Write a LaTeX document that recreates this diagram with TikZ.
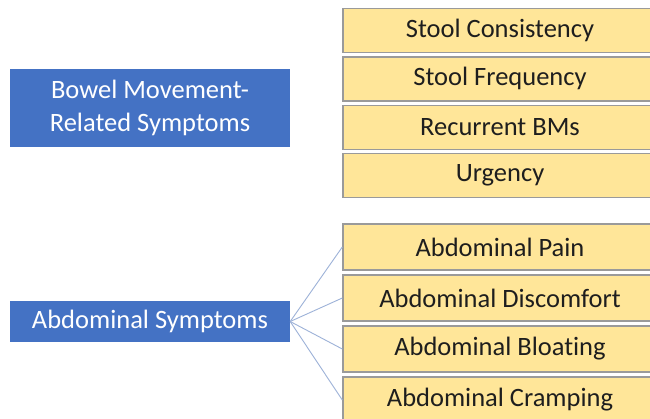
\documentclass[tikz,border=0pt]{standalone}
\usepackage{fontspec}
\setmainfont{Carlito}[Ligatures={NoCommon}]
\definecolor{catblue}{HTML}{4472C4}
\definecolor{itemfill}{HTML}{FFE699}
\definecolor{itemdraw}{HTML}{9A9A9A}
\definecolor{linkcol}{HTML}{9DB2D8}
\definecolor{itemtext}{HTML}{1E1E1E}
\begin{document}
\begin{tikzpicture}[x=1pt,y=-1pt,
  catbox/.style={fill=catblue, draw=none, text=white, align=center,
    minimum width=280pt, inner sep=0pt,
    font=\fontsize{26.5}{33}\selectfont},
  itembox/.style={fill=itemfill, draw=itemdraw, line width=1.4pt, text=itemtext,
    minimum width=314pt, inner sep=0pt,
    font=\fontsize{26.5}{30}\selectfont},
  link/.style={draw=linkcol, line width=0.9pt}]
\clip (0,0) rectangle (650,418);
\fill[white] (0,0) rectangle (650,418);
% Bowel movement group
\node[catbox, minimum height=78pt] (bm) at (150,108) {Bowel Movement-\\Related Symptoms};
\node[itembox, minimum height=44pt] (s1) at (500,30.5) {Stool Consistency};
\node[itembox, minimum height=44pt] (s2) at (500,78.8) {Stool Frequency};
\node[itembox, minimum height=44pt] (s3) at (500,127.2) {Recurrent BMs};
\node[itembox, minimum height=44pt] (s4) at (500,175.5) {Urgency};
% Abdominal group
\node[catbox, minimum height=41pt] (ab) at (150,321.5) {Abdominal Symptoms};
\node[itembox, minimum height=46pt] (a1) at (500,247) {Abdominal Pain};
\node[itembox, minimum height=46pt] (a2) at (500,298) {Abdominal Discomfort};
\node[itembox, minimum height=46pt] (a3) at (500,349) {Abdominal Bloating};
\node[itembox, minimum height=46pt] (a4) at (500,400) {Abdominal Cramping};
\foreach \t in {a1,a2,a3,a4}{
  \draw[link] (ab.east) -- (\t.west);
}
\end{tikzpicture}
\end{document}
